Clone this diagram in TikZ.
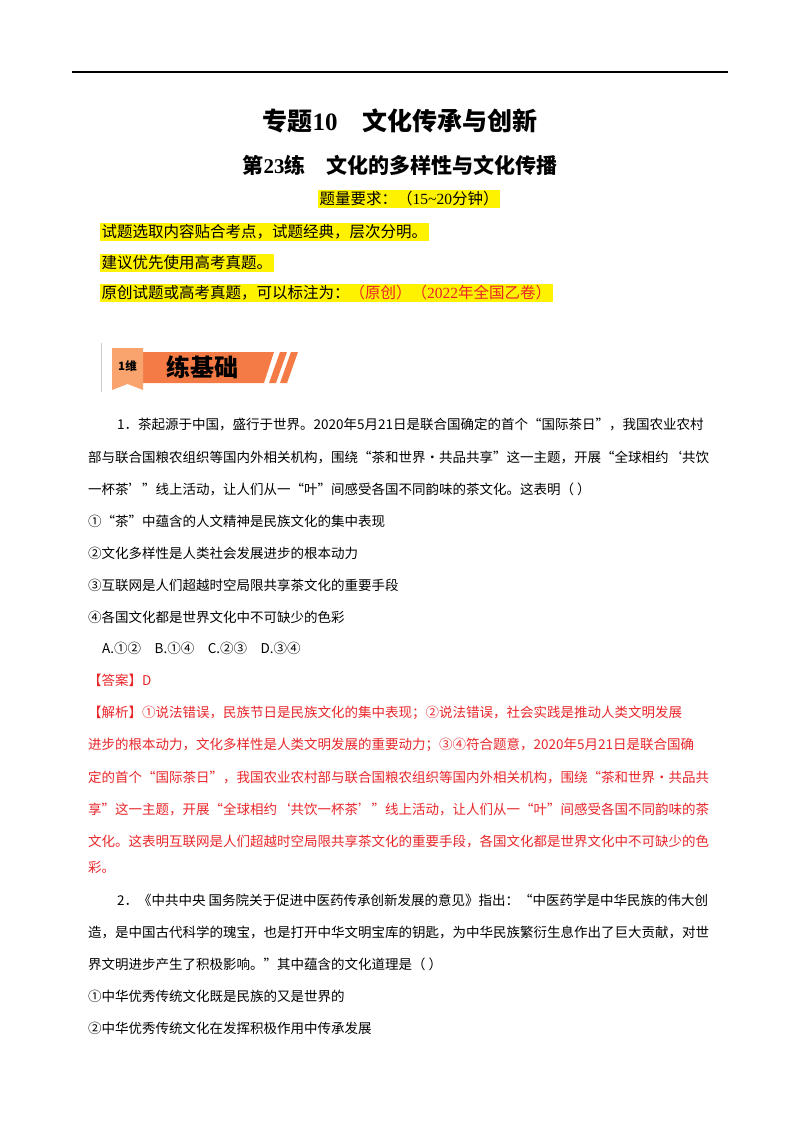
\documentclass[tikz,border=0pt]{standalone}
\usepackage{fontspec}
\setmainfont{Noto Sans CJK SC}
\newfontfamily\tms{Liberation Serif}
\begin{document}
\begin{tikzpicture}[x=1pt,y=-1pt,
  ln/.style={anchor=west,inner sep=0pt,font=\fontsize{13.5}{14}\selectfont},
  hl/.style={anchor=west,inner sep=1.5pt,fill=yellow,font=\fontsize{15.5}{16}\selectfont}]
\useasboundingbox (0,0) rectangle (800,1132);
\definecolor{ans}{HTML}{E8262A}
\definecolor{org}{HTML}{F47B45}
\definecolor{lorg}{HTML}{F9A46E}
\draw[line width=1.2pt] (72,72) -- (728,72);
\node[inner sep=0pt,font=\fontsize{25}{26}\selectfont\bfseries] (t1) at (400,121) {专题{\tms 10}\hspace{1em}文化传承与创新};
\node[inner sep=0pt,font=\fontsize{21}{22}\selectfont\bfseries] (t2) at (400,165) {第{\tms 23}练\hspace{1em}文化的多样性与文化传播};
\node[hl] (q) at (318,199) {题量要求：（{\tms 15\textasciitilde20}分钟）};
\node[hl] (y1) at (100,232) {试题选取内容贴合考点，试题经典，层次分明。};
\node[hl] (y2) at (100,263) {建议优先使用高考真题。};
\node[hl] (y3) at (100,293) {原创试题或高考真题，可以标注为：\textcolor{ans}{（原创）（{\tms 2022}年全国乙卷）}};
% banner
\draw[gray!40,line width=1pt] (101,343) -- (101,392);
\fill[org] (143,352) -- (274,352) -- (264,383) -- (143,383) -- cycle;
\fill[org] (280,352) -- (287,352) -- (276,383) -- (269,383) -- cycle;
\fill[org] (291,352) -- (298,352) -- (287,383) -- (280,383) -- cycle;
\fill[lorg] (112,348) -- (143,348) -- (143,390) -- (127.5,384) -- (112,390) -- cycle;
\node[inner sep=0pt,font=\fontsize{11.5}{12}\selectfont\bfseries] (b1) at (127.5,366) {1维};
\node[inner sep=0pt,font=\fontsize{24}{24}\selectfont\bfseries] (b2) at (202,367) {练基础};
% body
\node[ln] (l1) at (117,425) {1．茶起源于中国，盛行于世界。2020年5月21日是联合国确定的首个“国际茶日”，我国农业农村};
\node[ln] (l2) at (88,457) {部与联合国粮农组织等国内外相关机构，围绕“茶和世界•共品共享”这一主题，开展“全球相约‘共饮};
\node[ln] (l3) at (88,489) {一杯茶’”线上活动，让人们从一“叶”间感受各国不同韵味的茶文化。这表明（ ）};
\node[ln] (l4) at (88,521) {①“茶”中蕴含的人文精神是民族文化的集中表现};
\node[ln] (l5) at (88,553) {②文化多样性是人类社会发展进步的根本动力};
\node[ln] (l6) at (88,585) {③互联网是人们超越时空局限共享茶文化的重要手段};
\node[ln] (l7) at (88,617) {④各国文化都是世界文化中不可缺少的色彩};
\node[ln] (l8) at (102,648) {A.①②\quad B.①④\quad C.②③\quad D.③④};
\node[ln,text=ans] (a1) at (88,680) {【答案】D};
\node[ln,text=ans] (a2) at (88,713) {【解析】①说法错误，民族节日是民族文化的集中表现；②说法错误，社会实践是推动人类文明发展};
\node[ln,text=ans] (a3) at (88,745) {进步的根本动力，文化多样性是人类文明发展的重要动力；③④符合题意，2020年5月21日是联合国确};
\node[ln,text=ans] (a4) at (88,777) {定的首个“国际茶日”，我国农业农村部与联合国粮农组织等国内外相关机构，围绕“茶和世界•共品共};
\node[ln,text=ans] (a5) at (88,809) {享”这一主题，开展“全球相约‘共饮一杯茶’”线上活动，让人们从一“叶”间感受各国不同韵味的茶};
\node[ln,text=ans] (a6) at (88,841) {文化。这表明互联网是人们超越时空局限共享茶文化的重要手段，各国文化都是世界文化中不可缺少的色};
\node[ln,text=ans] (a7) at (88,867) {彩。};
\node[ln] (m1) at (117,900) {2．《中共中央 国务院关于促进中医药传承创新发展的意见》指出：“中医药学是中华民族的伟大创};
\node[ln] (m2) at (88,932) {造，是中国古代科学的瑰宝，也是打开中华文明宝库的钥匙，为中华民族繁衍生息作出了巨大贡献，对世};
\node[ln] (m3) at (88,964) {界文明进步产生了积极影响。”其中蕴含的文化道理是（ ）};
\node[ln] (m4) at (88,996) {①中华优秀传统文化既是民族的又是世界的};
\node[ln] (m5) at (88,1028) {②中华优秀传统文化在发挥积极作用中传承发展};
\end{tikzpicture}
\end{document}
